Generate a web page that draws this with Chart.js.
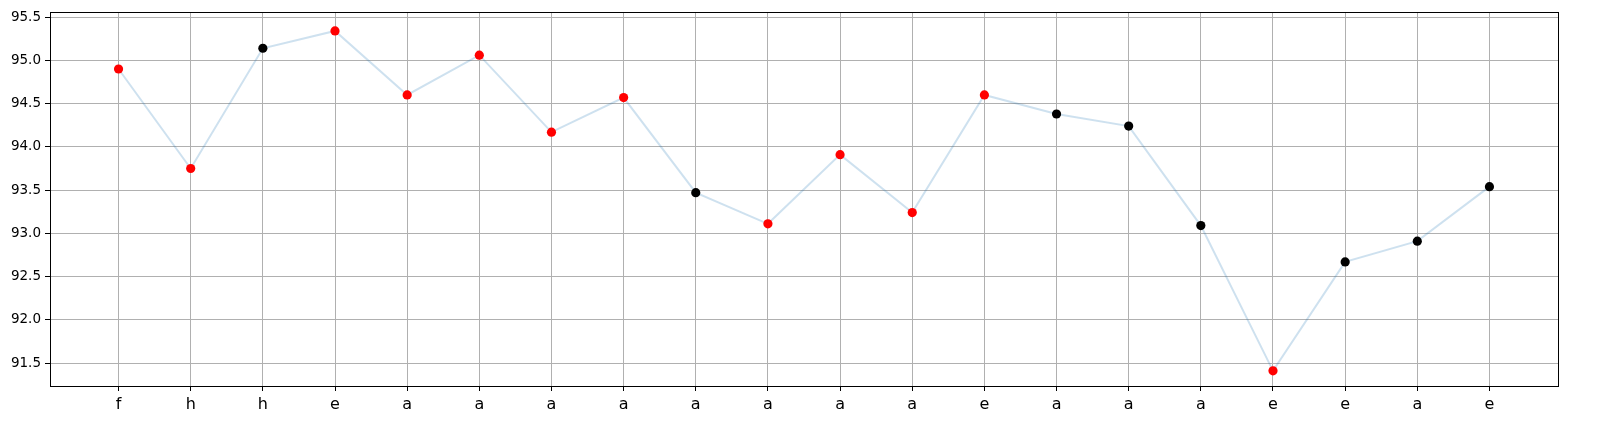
<!DOCTYPE html>
<html>
<head>
<meta charset="utf-8">
<script src="https://cdn.jsdelivr.net/npm/chart.js@4"></script>
<style>
  html, body { margin: 0; padding: 0; background: #fff; }
  #wrap { width: 1610px; height: 434px; }
</style>
</head>
<body>
<div id="wrap"><canvas id="grafico"></canvas></div>
<script>
// Dados
const rotulos = ['f', 'h', 'h', 'e', 'a', 'a', 'a', 'a', 'a', 'a', 'a', 'a', 'e', 'a', 'a', 'a', 'e', 'e', 'a', 'e'];
const valores = [94.90, 93.75, 95.14, 95.34, 94.60, 95.06, 94.17, 94.57, 93.47, 93.11,
                 93.91, 93.24, 94.60, 94.38, 94.24, 93.09, 91.41, 92.67, 92.91, 93.54];
// true = ponto vermelho, false = ponto preto
const destacados = [true, true, false, true, true, true, true, true, false, true,
                    true, true, true, false, false, false, true, false, false, false];
const ticksY = [91.5, 92.0, 92.5, 93.0, 93.5, 94.0, 94.5, 95.0, 95.5];

// Moldura preta em volta da área do gráfico
const moldura = {
    id: 'moldura',
    afterDraw(chart) {
        const { ctx, chartArea: a } = chart;
        ctx.save();
        ctx.strokeStyle = '#000';
        ctx.lineWidth = 1;
        ctx.strokeRect(Math.round(a.left) + 0.5, Math.round(a.top) + 0.5,
            Math.round(a.right - a.left), Math.round(a.bottom - a.top));
        ctx.restore();
    }
};

window.onload = () => {
    const ctx = document.getElementById('grafico').getContext('2d');
    new Chart(ctx, {
        type: 'line',
        data: {
            datasets: [{
                data: valores.map((v, i) => ({ x: i, y: v })),
                borderColor: 'rgba(31, 119, 180, 0.22)',
                borderWidth: 2,
                pointRadius: 4.6,
                pointHoverRadius: 4.6,
                pointBorderWidth: 0,
                pointBackgroundColor: destacados.map(d => d ? '#ff0000' : '#000000'),
                tension: 0,
                fill: false
            }]
        },
        options: {
            responsive: true,
            maintainAspectRatio: false,
            animation: false,
            layout: { padding: { top: 11, right: 52, left: 0, bottom: 0 } },
            plugins: { legend: { display: false }, tooltip: { enabled: false } },
            scales: {
                x: {
                    type: 'linear',
                    min: -0.95,
                    max: 19.95,
                    afterBuildTicks: s => { s.ticks = rotulos.map((_, i) => ({ value: i })); },
                    afterFit: s => { s.height = 48; },
                    grid: { color: '#b0b0b0', lineWidth: 1, tickColor: '#000', tickLength: 5, drawTicks: true },
                    border: { display: false },
                    ticks: {
                        callback: v => rotulos[v],
                        autoSkip: false,
                        maxRotation: 0,
                        padding: 4,
                        color: '#000',
                        font: { family: 'DejaVu Sans', size: 16 }
                    }
                },
                y: {
                    min: 91.235,
                    max: 95.558,
                    afterBuildTicks: s => { s.ticks = ticksY.map(v => ({ value: v })); },
                    afterFit: s => { s.width = 50; },
                    grid: { color: '#b0b0b0', lineWidth: 1, tickColor: '#000', tickLength: 5, drawTicks: true },
                    border: { display: false },
                    ticks: {
                        callback: v => v.toFixed(1),
                        padding: 4,
                        color: '#000',
                        font: { family: 'DejaVu Sans', size: 13.5 }
                    }
                }
            }
        },
        plugins: [moldura]
    });
};
</script>
</body>
</html>
